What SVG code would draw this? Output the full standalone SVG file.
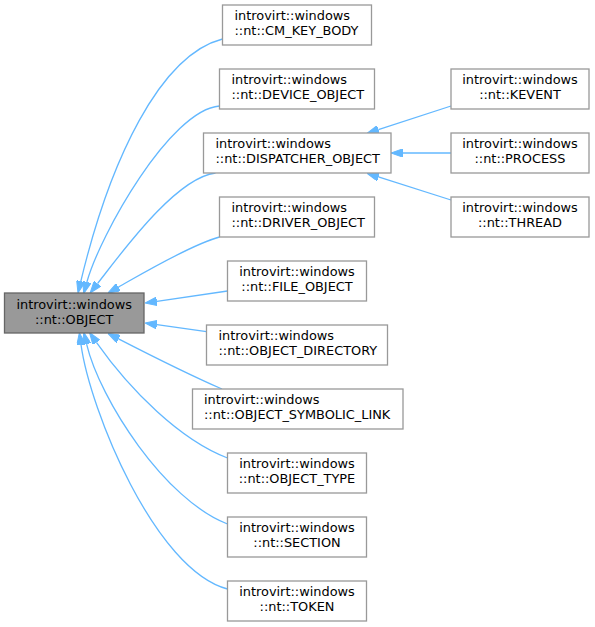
<svg xmlns="http://www.w3.org/2000/svg" width="595" height="627" viewBox="0 0 595 627">
<style>
.n rect{fill:#ffffff;stroke:#999999;stroke-width:1.3}
#n_object rect{fill:#999999;stroke:#666666}
text{font-family:"DejaVu Sans","Liberation Sans",sans-serif;font-size:12.9px;fill:#000000}
.c{text-anchor:middle}
#edges path{fill:none;stroke:#63b8ff;stroke-width:1.3;marker-end:url(#arr)}
</style>
<defs>
<marker id="arr" viewBox="0 0 12 8.5" refX="0" refY="4.25" markerWidth="12" markerHeight="8.5" markerUnits="userSpaceOnUse" orient="auto">
<path d="M0,0 L12,4.25 L0,8.5 z" fill="#63b8ff" stroke="#63b8ff" stroke-width="1"/>
</marker>
</defs>
<rect width="595" height="627" fill="#ffffff"/>
<g id="edges">
<path d="M222.5,39 C160,55 110,160 80.8,281.3"/>
<path d="M219.5,106 C170,110 100,235 86.9,282"/>
<path d="M215.5,173 C175,178 120,255 97.5,283.6"/>
<path d="M219.5,237 C190,245 140,275 118.4,287.1"/>
<path d="M227.5,291 L156.9,301.3"/>
<path d="M206.5,331.7 L156.9,324.7"/>
<path d="M222,389 C190,375 150,355 118.5,338.8"/>
<path d="M227.5,458 C180,440 130,390 96.4,342.4"/>
<path d="M227.5,524 C165,500 100,400 86.6,344.1"/>
<path d="M227.5,589 C155,570 90,410 81,344.6"/>
<path d="M451,106 L378.4,129.6"/>
<path d="M451,153 L403,153"/>
<path d="M451,200 L378.4,176.9"/>
</g>
<g id="n_object" class="n"><rect x="4.5" y="293" width="139.5" height="40"/><text class="c" x="74.2" y="309">introvirt::windows</text><text class="c" x="74.2" y="324">::nt::OBJECT</text></g>
<g id="n_cm_key_body" class="n"><rect x="222.5" y="5" width="149" height="40"/><text x="234.5" y="20">introvirt::windows</text><text x="234.5" y="35">::nt::CM_KEY_BODY</text></g>
<g id="n_device_object" class="n"><rect x="219.5" y="69" width="155" height="40"/><text x="231.5" y="84">introvirt::windows</text><text x="231.5" y="99">::nt::DEVICE_OBJECT</text></g>
<g id="n_dispatcher_object" class="n"><rect x="203.5" y="133" width="187.5" height="40"/><text x="215.5" y="148">introvirt::windows</text><text x="215.5" y="163">::nt::DISPATCHER_OBJECT</text></g>
<g id="n_driver_object" class="n"><rect x="219.5" y="197" width="155" height="40"/><text x="231.5" y="212">introvirt::windows</text><text x="231.5" y="227">::nt::DRIVER_OBJECT</text></g>
<g id="n_file_object" class="n"><rect x="227.5" y="261" width="139" height="40"/><text class="c" x="297" y="276">introvirt::windows</text><text class="c" x="297" y="291">::nt::FILE_OBJECT</text></g>
<g id="n_object_directory" class="n"><rect x="206.5" y="325" width="181" height="40"/><text x="218.5" y="340">introvirt::windows</text><text x="218.5" y="355">::nt::OBJECT_DIRECTORY</text></g>
<g id="n_object_symbolic_link" class="n"><rect x="192.5" y="389" width="210.5" height="40"/><text x="204" y="404">introvirt::windows</text><text x="204" y="419">::nt::OBJECT_SYMBOLIC_LINK</text></g>
<g id="n_object_type" class="n"><rect x="227.5" y="453" width="139" height="40"/><text class="c" x="297" y="468">introvirt::windows</text><text class="c" x="297" y="483">::nt::OBJECT_TYPE</text></g>
<g id="n_section" class="n"><rect x="227.5" y="517" width="139" height="40"/><text class="c" x="297" y="532">introvirt::windows</text><text class="c" x="297" y="547">::nt::SECTION</text></g>
<g id="n_token" class="n"><rect x="227.5" y="581" width="139" height="40"/><text class="c" x="297" y="596">introvirt::windows</text><text class="c" x="297" y="611">::nt::TOKEN</text></g>
<g id="n_kevent" class="n"><rect x="451" y="69" width="138" height="40"/><text class="c" x="520" y="84">introvirt::windows</text><text class="c" x="520" y="99">::nt::KEVENT</text></g>
<g id="n_process" class="n"><rect x="451" y="133" width="138" height="40"/><text class="c" x="520" y="148">introvirt::windows</text><text class="c" x="520" y="163">::nt::PROCESS</text></g>
<g id="n_thread" class="n"><rect x="451" y="197" width="138" height="40"/><text class="c" x="520" y="212">introvirt::windows</text><text class="c" x="520" y="227">::nt::THREAD</text></g>
</svg>
